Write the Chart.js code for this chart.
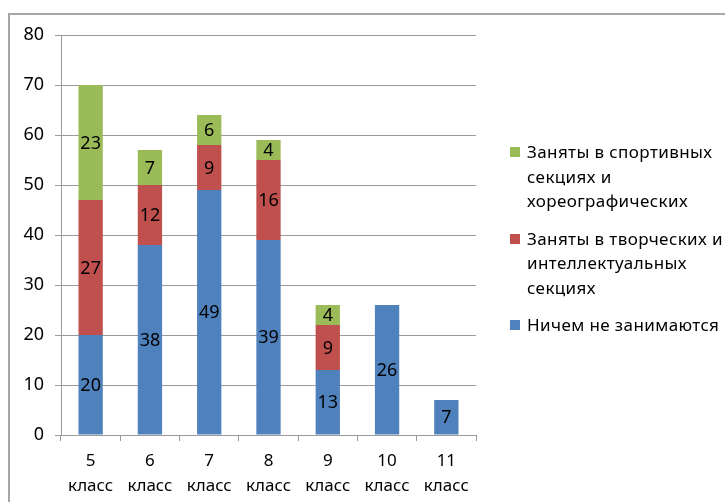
<!DOCTYPE html>
<html lang="ru">
<head>
    <meta charset="UTF-8">
    <title>Занятость учащихся по классам</title>
    <script src="https://cdn.jsdelivr.net/npm/chart.js@4.4.0/dist/chart.umd.min.js"></script>
    <style>
        body {
            margin: 0;
            background: #fff;
            font-family: "Noto Sans", sans-serif;
            overflow: hidden;
        }
        #wrap {
            position: relative;
            width: 725px;
            height: 502px;
        }
        #frame {
            position: absolute;
            left: 8px;
            top: 13px;
            width: 900px;
            height: 700px;
            border: 2px solid #a6a6a6;
        }
        #chart {
            position: absolute;
            left: 0;
            top: 0;
        }
        #legend {
            position: absolute;
            left: 510px;
            top: 140px;
            font-size: 17px;
            letter-spacing: 0.4px;
            color: #000;
        }
        .item {
            position: relative;
            padding-left: 17px;
            line-height: 24.5px;
            white-space: pre-line;
            margin-bottom: 13px;
        }
        .box {
            position: absolute;
            left: 0;
            top: 7px;
            width: 10px;
            height: 10px;
        }
    </style>
</head>
<body>
<div id="wrap">
    <div id="frame"></div>
    <canvas id="chart" width="725" height="502"></canvas>
    <div id="legend"></div>
</div>

<script>
    const categories = [['5', 'класс'], ['6', 'класс'], ['7', 'класс'], ['8', 'класс'], ['9', 'класс'], ['10', 'класс'], ['11', 'класс']];
    const nothing = [20, 38, 49, 39, 13, 26, 7];
    const creative = [27, 12, 9, 16, 9, 0, 0];
    const sport = [23, 7, 6, 4, 4, 0, 0];
    const seriesNames = [
        'Ничем не занимаются',
        'Заняты в творческих и\nинтеллектуальных\nсекциях',
        'Заняты в спортивных\nсекциях и\nхореографических'
    ];
    const seriesColors = ['#4f81bd', '#c0504d', '#9bbb59'];

    const xFont = { family: '"Noto Sans", sans-serif', size: 17, lineHeight: 1.47 };
    const yFont = { family: '"Noto Sans", sans-serif', size: 18 };

    // подписи значений внутри столбцов
    const valueLabels = {
        id: 'valueLabels',
        afterDatasetsDraw(chart) {
            const ctx = chart.ctx;
            ctx.save();
            ctx.font = '18px "Noto Sans", sans-serif';
            ctx.fillStyle = '#000';
            ctx.textAlign = 'center';
            ctx.textBaseline = 'middle';
            chart.data.datasets.forEach((ds, i) => {
                chart.getDatasetMeta(i).data.forEach((bar, j) => {
                    const v = ds.data[j];
                    if (!v) return;
                    const mid = (bar.y + bar.base) / 2;
                    ctx.fillText(v, bar.x, mid + 1);
                });
            });
            ctx.restore();
        }
    };

    const chart = new Chart(document.getElementById('chart'), {
        type: 'bar',
        data: {
            labels: categories,
            datasets: [
                { label: seriesNames[0], data: nothing, backgroundColor: seriesColors[0] },
                { label: seriesNames[1], data: creative, backgroundColor: seriesColors[1] },
                { label: seriesNames[2], data: sport, backgroundColor: seriesColors[2] }
            ].map(d => Object.assign(d, { barPercentage: 0.41, categoryPercentage: 1 }))
        },
        options: {
            responsive: false,
            animation: false,
            layout: { padding: { top: 35, right: 249, left: 0, bottom: 0 } },
            plugins: {
                legend: { display: false },
                tooltip: { enabled: false }
            },
            scales: {
                x: {
                    stacked: true,
                    afterFit(scale) { scale.height = 67; },
                    grid: {
                        offset: true,
                        drawOnChartArea: false,
                        drawTicks: true,
                        tickLength: 6,
                        color: '#9a9a9a'
                    },
                    border: { display: false },
                    ticks: { color: '#000', font: xFont, padding: 8, maxRotation: 0 }
                },
                y: {
                    stacked: true,
                    min: 0,
                    max: 80,
                    afterFit(scale) { scale.width = 61; },
                    grid: { color: '#9a9a9a', tickLength: 6 },
                    border: { color: '#9a9a9a' },
                    ticks: { stepSize: 10, color: '#000', font: yFont, padding: 11 }
                }
            }
        },
        plugins: [valueLabels]
    });

    // легенда справа, в обратном порядке
    const legendEl = document.getElementById('legend');
    chart.data.datasets.slice().reverse().forEach(ds => {
        const item = document.createElement('div');
        item.className = 'item';
        item.innerHTML = '<span class="box" style="background:' + ds.backgroundColor + '"></span>';
        item.appendChild(document.createTextNode(ds.label));
        legendEl.appendChild(item);
    });
</script>
</body>
</html>
